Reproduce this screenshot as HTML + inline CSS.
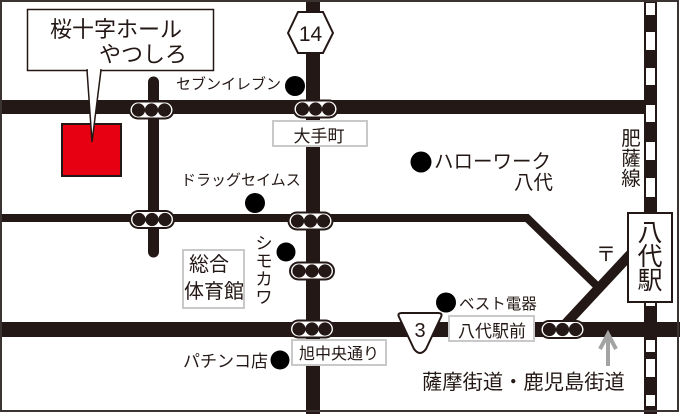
<!DOCTYPE html>
<html><head><meta charset="utf-8"><style>
html,body{margin:0;padding:0;background:#fff;}
svg{display:block;}
text{font-family:"Liberation Sans","Noto Sans CJK JP",sans-serif;fill:#231815;}
</style></head><body>
<svg width="680" height="414" viewBox="0 0 680 414" xmlns="http://www.w3.org/2000/svg">
<rect x="0" y="0" width="680" height="414" fill="#fff"/>
<!-- roads -->
<g fill="#231815" stroke="none">
<rect x="0" y="100" width="645" height="14"/>
<rect x="306" y="0" width="14" height="414"/>
<rect x="0" y="322" width="680" height="15"/>
</g>
<line x1="153.5" y1="82" x2="153.5" y2="252" stroke="#231815" stroke-width="11" stroke-linecap="round"/>
<polyline points="0,218 527,218 598,287" fill="none" stroke="#231815" stroke-width="8" stroke-linejoin="miter"/>
<line x1="558" y1="332" x2="640" y2="244" stroke="#231815" stroke-width="10"/>
<!-- railway -->
<rect x="644" y="0" width="13" height="414" fill="#231815"/>
<g fill="#fff">
<rect x="646" y="3" width="9" height="12"/>
<rect x="646" y="32" width="9" height="18"/>
<rect x="646" y="68" width="9" height="17"/>
<rect x="646" y="105" width="9" height="17"/>
<rect x="646" y="142" width="9" height="18"/>
<rect x="646" y="178" width="9" height="19"/>
<rect x="646" y="302" width="9" height="4"/>
<rect x="646" y="340" width="9" height="12"/>
<rect x="646" y="359" width="9" height="18"/>
<rect x="646" y="395" width="9" height="11"/>
</g>
<!-- frame -->
<rect x="1" y="1" width="677" height="410" fill="none" stroke="#3a3331" stroke-width="2"/>
<!-- signals -->
<defs>
<g id="sig">
<rect x="-23" y="-9.5" width="46" height="19" rx="9.5" fill="#231815"/>
<rect x="-21" y="-7.5" width="42" height="15" rx="7.5" fill="#fff"/>
<circle cx="-13" cy="0" r="6.6" fill="#231815"/>
<circle cx="0" cy="0" r="6.6" fill="#231815"/>
<circle cx="13" cy="0" r="6.6" fill="#231815"/>
</g>
</defs>
<use href="#sig" x="151.5" y="110"/>
<use href="#sig" x="315.5" y="109"/>
<use href="#sig" x="152" y="219.5"/>
<use href="#sig" x="310.5" y="221"/>
<use href="#sig" x="312" y="271"/>
<use href="#sig" x="312" y="329"/>
<use href="#sig" x="562.5" y="329.5"/>
<!-- red square -->
<rect x="62" y="124" width="59" height="52" fill="#e60012" stroke="#231815" stroke-width="2"/>
<!-- callout -->
<rect x="27.5" y="9.5" width="186" height="61" fill="#fff" stroke="#231815" stroke-width="1.5"/>
<polygon points="87,70 101,70 92,142" fill="#fff" stroke="#231815" stroke-width="1.5"/>
<rect x="88" y="67" width="12" height="4" fill="#fff"/>
<text x="50" y="37" font-size="22">桜十字ホール</text>
<text x="187" y="62" font-size="22" text-anchor="end">やつしろ</text>
<!-- route 14 hexagon -->
<polygon points="288,33 298,12 323,12 333,33 323,53 298,53" fill="#fff" stroke="#231815" stroke-width="2"/>
<text x="310.5" y="41" font-size="21" text-anchor="middle" font-family="Liberation Sans">14</text>
<!-- route 3 shield -->
<path d="M399,317 Q397,313 402,313 L438,313 Q443,313 441,317 L426,349 Q420,357 414,349 Z" fill="#fff" stroke="#231815" stroke-width="2"/>
<text x="420" y="337" font-size="20" text-anchor="middle" font-family="Liberation Sans">3</text>
<!-- label boxes -->
<g fill="#fff" stroke="#c9c9c9" stroke-width="2">
<rect x="273" y="121" width="94" height="25"/>
<rect x="183" y="250" width="61" height="58"/>
<rect x="292" y="340" width="94" height="25"/>
<rect x="449" y="316" width="85" height="25"/>
</g>
<text x="319" y="142" font-size="17" text-anchor="middle">大手町</text>
<text x="189" y="271" font-size="20">総合</text>
<text x="184" y="298" font-size="20">体育館</text>
<text x="339" y="359" font-size="16" text-anchor="middle">旭中央通り</text>
<text x="492" y="337" font-size="17" text-anchor="middle">八代駅前</text>
<!-- station -->
<rect x="628" y="213" width="44" height="89" fill="#fff" stroke="#231815" stroke-width="2"/>
<text x="650" y="241" font-size="25" text-anchor="middle">八</text>
<text x="650" y="265" font-size="25" text-anchor="middle">代</text>
<text x="650" y="289" font-size="25" text-anchor="middle">駅</text>
<!-- dots -->
<g fill="#000">
<circle cx="295" cy="86" r="10"/>
<circle cx="255" cy="203" r="10"/>
<circle cx="286" cy="252" r="9.5"/>
<circle cx="280" cy="360" r="9.5"/>
<circle cx="421" cy="162" r="10.5"/>
<circle cx="446" cy="302.5" r="10"/>
</g>
<!-- place labels -->
<text x="281" y="89" font-size="15" text-anchor="end">セブンイレブン</text>
<text x="181" y="185" font-size="15">ドラッグセイムス</text>
<text x="264" y="249" font-size="17" text-anchor="middle">シ</text>
<text x="264" y="267" font-size="17" text-anchor="middle">モ</text>
<text x="264" y="285" font-size="17" text-anchor="middle">カ</text>
<text x="264" y="303" font-size="17" text-anchor="middle">ワ</text>
<text x="268" y="367" font-size="17" text-anchor="end">パチンコ店</text>
<text x="434" y="168" font-size="19.5">ハローワーク</text>
<text x="553" y="189" font-size="19.5" text-anchor="end">八代</text>
<text x="631" y="145" font-size="19.5" text-anchor="middle">肥</text>
<text x="631" y="165" font-size="19.5" text-anchor="middle">薩</text>
<text x="631" y="185" font-size="19.5" text-anchor="middle">線</text>
<text x="606" y="261" font-size="20" text-anchor="middle">〒</text>
<text x="459" y="309" font-size="15.5">ベスト電器</text>
<!-- arrow -->
<g stroke="#a3a3a3" stroke-width="4" fill="none">
<line x1="608" y1="336" x2="608" y2="366"/>
<polyline points="600,349 608,334 616,349" stroke-linejoin="miter"/>
</g>
<text x="422" y="389" font-size="20.3">薩摩街道・鹿児島街道</text>
</svg>
</body></html>
